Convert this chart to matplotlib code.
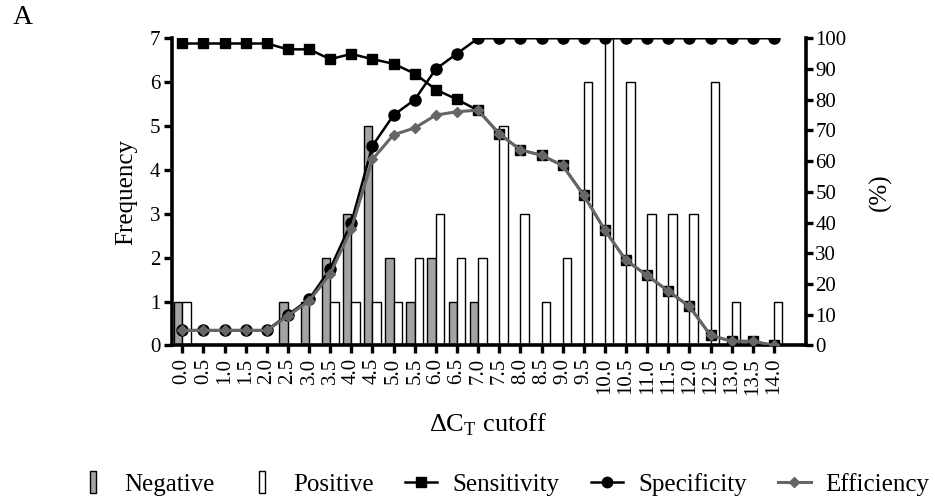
import matplotlib
matplotlib.use('Agg')
import matplotlib.pyplot as plt
from matplotlib.lines import Line2D

plt.rcParams['font.family'] = ['Liberation Serif', 'DejaVu Serif']
plt.rcParams['mathtext.fontset'] = 'custom'
plt.rcParams['mathtext.rm'] = 'Liberation Serif'

# cutoff categories (delta CT)
cutoffs = ['0.0', '0.5', '1.0', '1.5', '2.0', '2.5', '3.0', '3.5', '4.0', '4.5',
           '5.0', '5.5', '6.0', '6.5', '7.0', '7.5', '8.0', '8.5', '9.0', '9.5',
           '10.0', '10.5', '11.0', '11.5', '12.0', '12.5', '13.0', '13.5', '14.0']

# frequency histograms
negative = [1, 0, 0, 0, 0, 1, 1, 2, 3, 5, 2, 1, 2, 1, 1,
            0, 0, 0, 0, 0, 0, 0, 0, 0, 0, 0, 0, 0, 0]
positive = [1, 0, 0, 0, 0, 0, 0, 1, 1, 1, 1, 2, 3, 2, 2,
            5, 3, 1, 2, 6, 7, 6, 3, 3, 3, 6, 1, 0, 1]

# percentages (right axis)
sensitivity = [98.3, 98.3, 98.3, 98.3, 98.3, 96.4, 96.4, 93.2, 94.9, 93.2,
               91.7, 88.5, 83.3, 80.1, 76.5, 68.9, 63.7, 61.9, 58.6, 48.9,
               37.5, 27.7, 22.8, 17.7, 12.7, 3.3, 1.4, 1.4, 0.0]
specificity = [5, 5, 5, 5, 5, 10, 15, 25, 40, 65, 75, 80, 90, 95, 100,
               100, 100, 100, 100, 100, 100, 100, 100, 100, 100, 100, 100, 100, 100]
efficiency = [4.9, 4.9, 4.9, 4.9, 4.9, 9.6, 14.5, 23.3, 38.0, 60.6,
              68.6, 70.8, 75.0, 76.1, 76.6, 68.9, 63.7, 61.9, 58.6, 48.9,
              37.5, 27.7, 22.8, 17.7, 12.7, 3.3, 1.4, 1.4, 0.0]

GRAY = '#a3a3a3'
LINEGRAY = '#666666'
x = list(range(len(cutoffs)))
bw = 0.4

fig = plt.figure(figsize=(9.35, 5.01), dpi=100)
ax = fig.add_axes([0.1836, 0.3104, 0.6781, 0.6132])
ax2 = ax.twinx()

# bars: negative left of tick, positive right of tick
ax.bar([i - bw for i in x], negative, width=bw, align='edge',
       color=GRAY, edgecolor='black', linewidth=1.0)
ax.bar(x, positive, width=bw, align='edge',
       color='white', edgecolor='black', linewidth=1.0)

ax2.plot(x, sensitivity, color='black', lw=1.8, marker='s', ms=6.5)
ax2.plot(x, specificity, color='black', lw=1.8, marker='o', ms=8)
ax2.plot(x, efficiency, color=LINEGRAY, lw=2.2, marker='D', ms=5.5,
         mfc=LINEGRAY, mec=LINEGRAY)

ax.set_xlim(-0.5, 29.5)
ax.set_ylim(0, 7)
ax2.set_ylim(0, 100)
ax.set_yticks(range(0, 8))
ax2.set_yticks(range(0, 101, 10))
ax.set_xticks(x)
ax.set_xticklabels(cutoffs, rotation=90, fontsize=15)

for a in (ax, ax2):
    a.spines['top'].set_visible(False)
    for s in a.spines.values():
        s.set_linewidth(2.6)
ax.spines['right'].set_visible(False)
ax2.spines['left'].set_visible(False)
ax2.spines['bottom'].set_visible(False)

ax.tick_params(axis='y', length=6, width=2.4, labelsize=15, pad=2)
ax.tick_params(axis='x', length=6, width=2.4, pad=3)
ax2.tick_params(axis='y', length=5, width=2.4, labelsize=15, pad=2)

ax.set_ylabel('Frequency', fontsize=18, labelpad=9)
ax2.set_ylabel('(%)', fontsize=18, labelpad=16)
ax.set_xlabel(r'$\Delta$C$_\mathrm{T}$ cutoff', fontsize=19, labelpad=12)

fig.text(0.014, 0.99, 'A', fontsize=20, va='top', ha='left')

bar_marker = [(-0.25, -1), (0.25, -1), (0.25, 1), (-0.25, 1), (-0.25, -1)]
handles = [
    Line2D([], [], ls='none', marker=bar_marker, ms=16, mfc=GRAY, mec='black', mew=1),
    Line2D([], [], ls='none', marker=bar_marker, ms=16, mfc='white', mec='black', mew=1),
    Line2D([], [], color='black', lw=1.8, marker='s', ms=6.5),
    Line2D([], [], color='black', lw=1.8, marker='o', ms=7.5),
    Line2D([], [], color=LINEGRAY, lw=2.2, marker='D', ms=5),
]
labels = ['Negative', 'Positive', 'Sensitivity', 'Specificity', 'Efficiency']
fig.legend(handles, labels, loc='center', bbox_to_anchor=(0.538, 0.033), ncol=5,
           frameon=False, fontsize=18, handlelength=1.3, handletextpad=0.6,
           columnspacing=1.25)

fig.savefig('out.png', dpi=100)
